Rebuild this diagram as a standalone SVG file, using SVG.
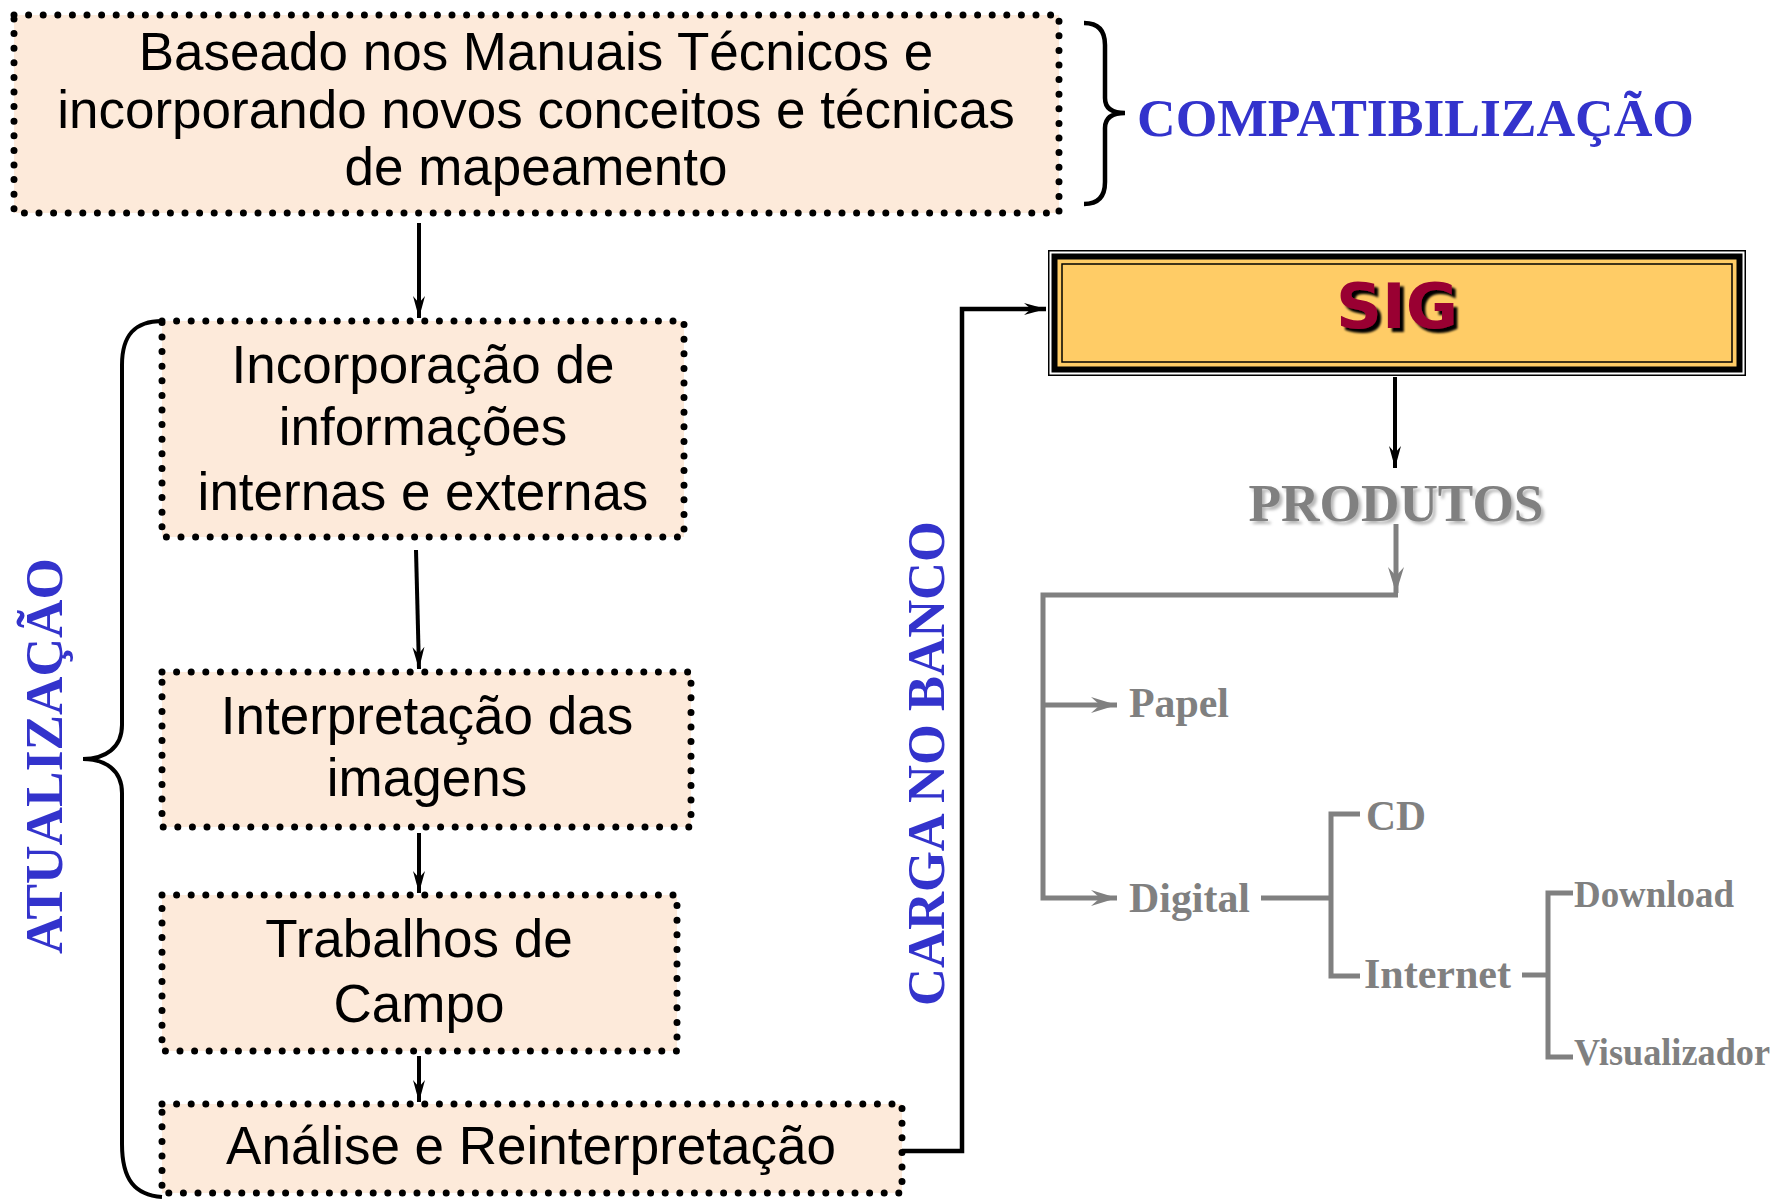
<svg xmlns="http://www.w3.org/2000/svg" width="1776" height="1199" viewBox="0 0 1776 1199">
<defs>
<style>
.box{fill:#FDEADA;stroke:#000;stroke-width:7;stroke-dasharray:0 14.6;stroke-linecap:round}
.bt{font-family:"Liberation Sans",Arial,sans-serif;font-size:53px;fill:#000;text-anchor:middle}
.blue{font-family:"Liberation Serif","Times New Roman",serif;font-weight:bold;font-size:53px;fill:#3333CC}
.gt{font-family:"Liberation Serif","Times New Roman",serif;font-weight:bold;fill:#808080}
.bl{fill:none;stroke:#000;stroke-width:4}
.gl{fill:none;stroke:#808080;stroke-width:5}
</style>
<filter id="sigsh" x="-10%" y="-10%" width="130%" height="130%">
<feDropShadow dx="4" dy="4" stdDeviation="0.8" flood-color="#000" flood-opacity="1"/>
</filter>
<filter id="prsh" x="-10%" y="-10%" width="130%" height="130%">
<feDropShadow dx="3" dy="3" stdDeviation="1.5" flood-color="#b0b0b0" flood-opacity="0.9"/>
</filter>
<marker id="ab" markerUnits="userSpaceOnUse" markerWidth="30" markerHeight="16" viewBox="-24 -8 26 16" refX="0" refY="0" orient="auto">
<path d="M0,0 L-22,-6 L-15,0 L-22,6 Z" fill="#000"/>
</marker>
<marker id="ag" markerUnits="userSpaceOnUse" markerWidth="32" markerHeight="20" viewBox="-28 -10 30 20" refX="0" refY="0" orient="auto">
<path d="M0,0 L-26,-8 L-17,0 L-26,8 Z" fill="#808080"/>
</marker>
</defs>
<rect width="1776" height="1199" fill="#fff"/>

<g id="connectors">
<line class="bl" x1="419" y1="223" x2="419" y2="318" marker-end="url(#ab)"/>
<line class="bl" x1="416" y1="550" x2="419" y2="669" marker-end="url(#ab)"/>
<line class="bl" x1="419" y1="833" x2="419" y2="893" marker-end="url(#ab)"/>
<line class="bl" x1="419" y1="1056" x2="419" y2="1102" marker-end="url(#ab)"/>
<path class="bl" d="M902,1151 H962 V309 H1046" style="stroke-width:4.5" marker-end="url(#ab)"/>
<line class="bl" x1="1395" y1="377" x2="1395" y2="468" marker-end="url(#ab)"/>
<line class="gl" x1="1396" y1="524" x2="1396" y2="593" marker-end="url(#ag)"/>
<path class="gl" d="M1398,595 H1043 V898 H1117" marker-end="url(#ag)"/>
<path class="gl" d="M1043,705 H1117" marker-end="url(#ag)"/>
<path class="gl" d="M1261,898 H1331"/>
<path class="gl" d="M1360,814 H1331 V976 H1360"/>
<path class="gl" d="M1522,975 H1548"/>
<path class="gl" d="M1573,893 H1548 V1057 H1573"/>
</g>

<g id="brace-compat">
<path d="M1084,23 C1098,23 1105,30 1105,45 L1105,98 C1105,108 1112,113 1125,113 C1112,113 1105,118 1105,128 L1105,182 C1105,197 1098,204 1084,204" fill="none" stroke="#000" stroke-width="4.5"/>
<text class="blue" x="1137" y="136" textLength="557" lengthAdjust="spacingAndGlyphs">COMPATIBILIZAÇÃO</text>
</g>

<g id="brace-atual">
<path d="M162,321 C135,321 122,335 122,365 L122,725 C122,748 105,759 83,759 C105,759 122,770 122,793 L122,1144 C122,1180 135,1195 162,1197" fill="none" stroke="#000" stroke-width="4"/>
<text class="blue" transform="translate(62,954) rotate(-90)" textLength="396" lengthAdjust="spacingAndGlyphs">ATUALIZAÇÃO</text>
</g>

<g id="carga">
<text class="blue" transform="translate(944,1006) rotate(-90)" textLength="485" lengthAdjust="spacingAndGlyphs">CARGA NO BANCO</text>
</g>

<g id="n-base">
<rect class="box" x="14" y="15" width="1045" height="198"/>
<text class="bt" x="536" y="70">Baseado nos Manuais Técnicos e</text>
<text class="bt" x="536" y="128">incorporando novos conceitos e técnicas</text>
<text class="bt" x="536" y="185">de mapeamento</text>
</g>

<g id="n-incorp">
<rect class="box" x="162" y="321" width="522" height="216"/>
<text class="bt" x="423" y="383">Incorporação de</text>
<text class="bt" x="423" y="445">informações</text>
<text class="bt" x="423" y="510">internas e externas</text>
</g>

<g id="n-interp">
<rect class="box" x="162" y="672" width="529" height="155"/>
<text class="bt" x="427" y="734">Interpretação das</text>
<text class="bt" x="427" y="796">imagens</text>
</g>

<g id="n-trab">
<rect class="box" x="162" y="895" width="515" height="156"/>
<text class="bt" x="419" y="957">Trabalhos de</text>
<text class="bt" x="419" y="1022">Campo</text>
</g>

<g id="n-analise">
<rect class="box" x="162" y="1104" width="740" height="89"/>
<text class="bt" x="531" y="1164">Análise e Reinterpretação</text>
</g>

<g id="n-sig">
<rect x="1048.75" y="250.75" width="696.5" height="124.5" fill="#fff" stroke="#000" stroke-width="1.5"/>
<rect x="1054.5" y="256.5" width="685" height="113" fill="#FFCC66" stroke="#000" stroke-width="6"/>
<rect x="1062" y="264" width="670" height="98" fill="none" stroke="#000" stroke-width="1.5"/>
<text x="1397" y="328" font-family="'DejaVu Sans',sans-serif" font-weight="bold" font-size="62" text-anchor="middle" fill="#990033" filter="url(#sigsh)" textLength="122" lengthAdjust="spacingAndGlyphs">SIG</text>
</g>

<g id="n-produtos">
<text class="gt" x="1396" y="521" font-size="53" text-anchor="middle" filter="url(#prsh)" textLength="295" lengthAdjust="spacingAndGlyphs">PRODUTOS</text>
</g>

<g id="n-papel"><text class="gt" x="1129" y="717" font-size="42" textLength="100" lengthAdjust="spacingAndGlyphs">Papel</text></g>
<g id="n-digital"><text class="gt" x="1129" y="912" font-size="42" textLength="121" lengthAdjust="spacingAndGlyphs">Digital</text></g>
<g id="n-cd"><text class="gt" x="1366" y="830" font-size="42" textLength="60" lengthAdjust="spacingAndGlyphs">CD</text></g>
<g id="n-internet"><text class="gt" x="1364" y="988" font-size="42" textLength="147" lengthAdjust="spacingAndGlyphs">Internet</text></g>
<g id="n-download"><text class="gt" x="1574" y="907" font-size="37" textLength="160" lengthAdjust="spacingAndGlyphs">Download</text></g>
<g id="n-visualizador"><text class="gt" x="1574" y="1065" font-size="37" textLength="196" lengthAdjust="spacingAndGlyphs">Visualizador</text></g>
</svg>
